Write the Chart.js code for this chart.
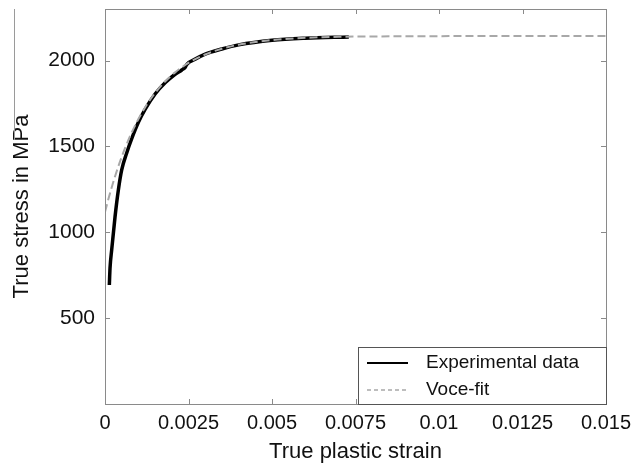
<!DOCTYPE html>
<html>
<head>
<meta charset="utf-8">
<script src="https://cdn.jsdelivr.net/npm/chart.js@4/dist/chart.umd.min.js"></script>
<style>
html,body{margin:0;padding:0;background:#fff;}
#wrap{width:638px;height:466px;position:relative;}
</style>
</head>
<body>
<div id="wrap"><canvas id="c" width="638" height="466"></canvas></div>
<script>
// ---- data ----
const expStrain = [0.00013,0.00015,0.0002,0.0003,0.0004,0.0005,0.00065,0.0008,0.001,0.0012,0.0015,0.0018,0.0021,0.0023,0.0024,0.00245,0.0027,0.003,0.0035,0.004,0.005,0.006,0.0073];
const expStress = [693,790,897,1089,1246,1363,1462,1545,1640,1715,1805,1870,1920,1945,1960,1978,2008,2037,2067,2091,2118,2130,2137];
const voceStrain = [0,0.0001,0.0002,0.0003,0.0004,0.0005,0.0006,0.0008,0.001,0.0012,0.0015,0.0018,0.0021,0.0025,0.003,0.0035,0.004,0.005,0.006,0.007,0.008,0.01,0.0125,0.015];
const voceStress = [1118,1192,1261,1325,1384,1439,1490,1581,1659,1727,1811,1878,1931,1986,2035,2069,2092,2119,2132,2138,2140,2142,2143,2143];
const seriesNames = ['Experimental data','Voce-fit'];
const xTickValues = [0,0.0025,0.005,0.0075,0.01,0.0125,0.015];
const xTickLabels = ['0','0.0025','0.005','0.0075','0.01','0.0125','0.015'];
const yTickValues = [500,1000,1500,2000];

const toPts = (xs, ys) => xs.map((x,i)=>({x:x, y:ys[i]}));
const FONT = "'Liberation Sans', Arial, sans-serif";

const boxPlugin = {
  id:'boxPlugin',
  afterDraw(chart){
    const {ctx, chartArea:a, scales} = chart;
    ctx.save();
    ctx.strokeStyle = '#8a8a8a';
    ctx.lineWidth = 1;
    ctx.strokeRect(Math.round(a.left)+0.5, Math.round(a.top)+0.5, Math.round(a.right-a.left), Math.round(a.bottom-a.top));
    const tl = 5;
    ctx.beginPath();
    xTickValues.forEach(v=>{
      const px = Math.round(scales.x.getPixelForValue(v))+0.5;
      ctx.moveTo(px, a.bottom); ctx.lineTo(px, a.bottom-tl);
      ctx.moveTo(px, a.top); ctx.lineTo(px, a.top+tl);
    });
    yTickValues.forEach(v=>{
      const py = Math.round(scales.y.getPixelForValue(v))+0.5;
      ctx.moveTo(a.left, py); ctx.lineTo(a.left+tl, py);
      ctx.moveTo(a.right, py); ctx.lineTo(a.right-tl, py);
    });
    ctx.stroke();
    ctx.beginPath();
    ctx.moveTo(14.5, a.top); ctx.lineTo(14.5, 140);
    ctx.strokeStyle = '#9a9a9a';
    ctx.stroke();

    const lx = 358, ly = 347, lw = Math.round(a.right) - lx, lh = Math.round(a.bottom) - ly;
    ctx.fillStyle = '#fff';
    ctx.fillRect(lx, ly, lw, lh);
    ctx.strokeStyle = '#555';
    ctx.lineWidth = 1;
    ctx.strokeRect(lx+0.5, ly+0.5, lw, lh);
    const ds = chart.data.datasets;
    const rows = [363, 390];
    ds.forEach((d,i)=>{
      ctx.save();
      ctx.beginPath();
      ctx.strokeStyle = d.borderColor;
      ctx.lineWidth = i===0 ? 2 : 1.5;
      ctx.setLineDash(i===0 ? [] : [4,3]);
      ctx.moveTo(367, rows[i]); ctx.lineTo(408, rows[i]);
      ctx.stroke();
      ctx.restore();
      ctx.fillStyle = '#111';
      ctx.font = "19px " + FONT;
      ctx.textBaseline = 'middle';
      ctx.textAlign = 'left';
      ctx.fillText(d.label, 426, rows[i]);
    });
    ctx.restore();
  }
};

new Chart(document.getElementById('c'), {
  type:'scatter',
  data:{
    datasets:[
      {label:seriesNames[0], data:toPts(expStrain, expStress), showLine:true, borderColor:'#000', backgroundColor:'#000', borderWidth:3.5, pointRadius:0, cubicInterpolationMode:'monotone', order:1},
      {label:seriesNames[1], data:toPts(voceStrain, voceStress), showLine:true, borderColor:'#a8a8a8', backgroundColor:'#a8a8a8', borderWidth:2, borderDash:[8,4], pointRadius:0, cubicInterpolationMode:'monotone', order:0}
    ]
  },
  options:{
    responsive:false,
    animation:false,
    events:[],
    layout:{padding:{top:9,right:32,left:0,bottom:0}},
    plugins:{legend:{display:false}, tooltip:{enabled:false}},
    scales:{
      x:{
        type:'linear', min:0, max:0.015,
        afterBuildTicks: s => { s.ticks = xTickValues.map(v=>({value:v})); },
        afterFit: s => { s.height = 62; s.paddingLeft = 0; s.paddingRight = 0; },
        grid:{display:false, drawTicks:false},
        border:{display:false},
        ticks:{color:'#111', padding:7, font:{family:FONT, size:20}, maxRotation:0, autoSkip:false,
          callback:(v)=>{ const i = xTickValues.indexOf(v); return i>=0 ? xTickLabels[i] : ''; }},
        title:{display:true, text:'True plastic strain', color:'#111', font:{family:FONT, size:22}, padding:{top:1,bottom:1}}
      },
      y:{
        type:'linear', min:0, max:2300,
        afterBuildTicks: s => { s.ticks = yTickValues.map(v=>({value:v})); },
        afterFit: s => { s.width = 105; s.paddingTop = 0; s.paddingBottom = 0; },
        grid:{display:false, drawTicks:false},
        border:{display:false},
        ticks:{color:'#111', padding:10, font:{family:FONT, size:21}, autoSkip:false,
          callback:(v)=>String(v)},
        title:{display:true, text:'True stress in MPa', color:'#111', font:{family:FONT, size:22}, padding:{top:9,bottom:0}}
      }
    }
  },
  plugins:[boxPlugin]
});
</script>
</body>
</html>
